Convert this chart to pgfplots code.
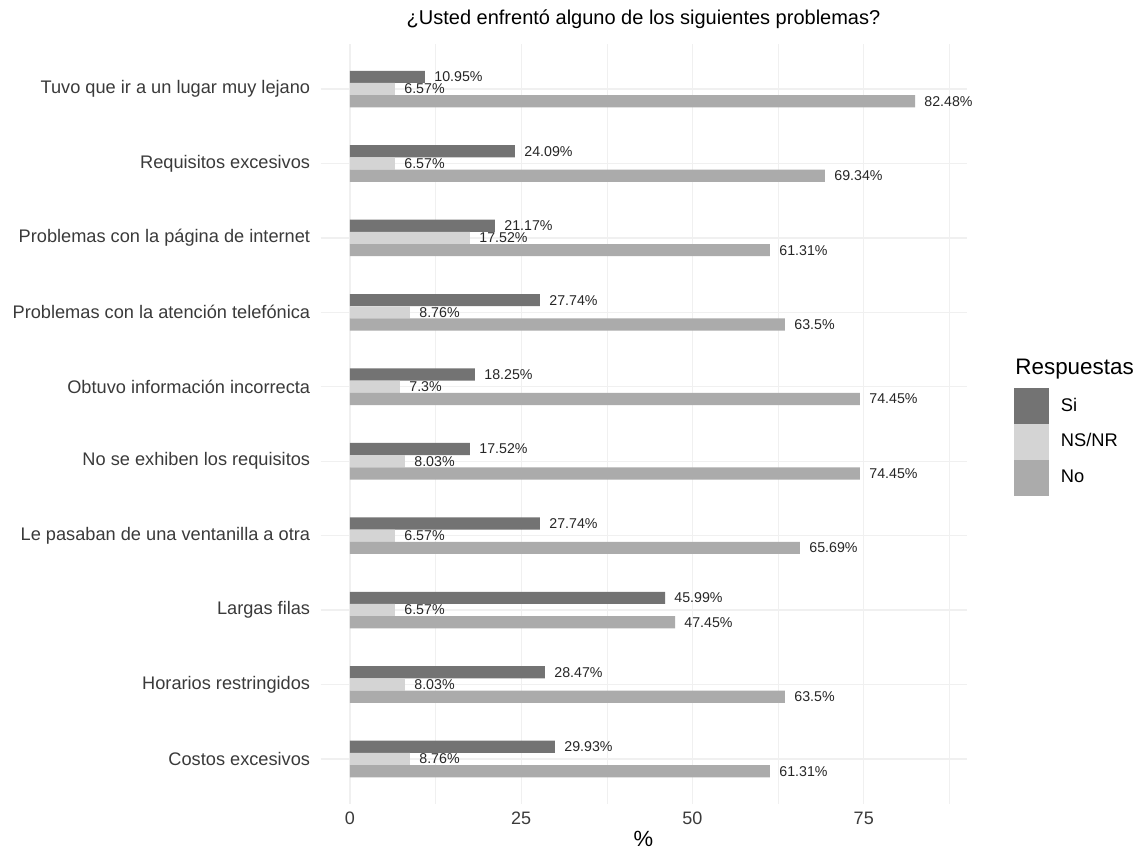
\documentclass[border=0pt]{standalone}
\usepackage{fontspec}
\setmainfont{Liberation Sans}
\usepackage{pgfplots}
\usepackage{pgfplotstable}
\pgfplotsset{compat=1.18}
\definecolor{cSi}{HTML}{737373}
\definecolor{cNS}{HTML}{D4D4D4}
\definecolor{cNo}{HTML}{ABABAB}
\definecolor{txt}{HTML}{3A3A3A}
\definecolor{gridc}{HTML}{F0F0F0}

\pgfplotstableread{
pos si ns no
1 10.95 6.57 82.48
2 24.09 6.57 69.34
3 21.17 17.52 61.31
4 27.74 8.76 63.5
5 18.25 7.3 74.45
6 17.52 8.03 74.45
7 27.74 6.57 65.69
8 45.99 6.57 47.45
9 28.47 8.03 63.5
10 29.93 8.76 61.31
}\datatable

\begin{document}
\begin{tikzpicture}
\path[use as bounding box] (0,0) rectangle (567.5pt,425pt);
\begin{axis}[
  at={(160.25pt,23.2pt)}, anchor=south west,
  scale only axis, width=323pt, height=379.6pt,
  xmin=-4.3, xmax=90,
  ymin=0.4, ymax=10.6, y dir=reverse,
  axis line style={draw=none},
  major tick length=0pt, minor tick length=0pt,
  tick style={draw=none},
  xtick={0,25,50,75},
  minor xtick={12.5,37.5,62.5,87.5},
  xmajorgrids, xminorgrids, ymajorgrids,
  major grid style={draw=gridc, line width=0.7pt},
  minor grid style={draw=gridc, line width=0.35pt},
  ytick={1,...,10},
  yticklabels={Tuvo que ir a un lugar muy lejano, Requisitos excesivos, Problemas con la página de internet, Problemas con la atención telefónica, Obtuvo información incorrecta, No se exhiben los requisitos, Le pasaban de una ventanilla a otra, Largas filas, Horarios restringidos, Costos excesivos},
  yticklabel style={font=\fontsize{9.1pt}{10pt}\selectfont, text=txt, inner sep=0pt, xshift=-5pt},
  xticklabel style={font=\fontsize{9pt}{10pt}\selectfont, text=txt, inner sep=0pt, yshift=-4pt},
  /pgf/number format/assume math mode=true,
  xlabel={\%},
  xlabel style={font=\fontsize{11pt}{12pt}\selectfont, text=black, inner sep=0pt, at={(axis description cs:0.5,0)}, anchor=base, yshift=-21.2pt},
  title={¿Usted enfrentó alguno de los siguientes problemas?},
  title style={font=\fontsize{10pt}{12pt}\selectfont, text=black, inner sep=0pt, at={(axis description cs:0.5,1)}, anchor=base, yshift=3.7pt},
  clip=false,
  legend style={at={(axis description cs:1.0736,0.5474)}, anchor=north west, draw=none, fill=none, inner sep=0pt, outer sep=0pt, row sep=0pt, column sep=6pt, nodes={inner sep=0pt}, font=\fontsize{9.15pt}{10pt}\selectfont, text=black},
  legend cell align=left,
  every node near coord/.append style={font=\fontsize{7.1pt}{8pt}\selectfont, text=black!85, inner sep=0pt, xshift=4.5pt, anchor=west},
]
\addplot[xbar, bar width=6.1pt, bar shift=0pt, fill=cSi, draw=none, forget plot,
  point meta=explicit, nodes near coords={\pgfmathprintnumber{\pgfplotspointmeta}\%}]
  table[x=si, y expr=\thisrow{pos}-0.164, meta=si] {\datatable};
\addplot[xbar, bar width=6.1pt, bar shift=0pt, fill=cNS, draw=none, forget plot,
  point meta=explicit, nodes near coords={\pgfmathprintnumber{\pgfplotspointmeta}\%}]
  table[x=ns, y=pos, meta=ns] {\datatable};
\addplot[xbar, bar width=6.1pt, bar shift=0pt, fill=cNo, draw=none, forget plot,
  point meta=explicit, nodes near coords={\pgfmathprintnumber{\pgfplotspointmeta}\%}]
  table[x=no, y expr=\thisrow{pos}+0.164, meta=no] {\datatable};
\addlegendimage{legend image code/.code={\fill[cSi] (0pt,-8.75pt) rectangle (17pt,8.75pt);}}
\addlegendentry{Si}
\addlegendimage{legend image code/.code={\fill[cNS] (0pt,-8.75pt) rectangle (17pt,8.75pt);}}
\addlegendentry{NS/NR}
\addlegendimage{legend image code/.code={\fill[cNo] (0pt,-8.75pt) rectangle (17pt,8.75pt);}}
\addlegendentry{No}
\node[anchor=base west, inner sep=0pt, font=\fontsize{11.2pt}{12pt}\selectfont] at (axis description cs:1.0751,0.5658) {Respuestas};
\end{axis}
\end{tikzpicture}
\end{document}
